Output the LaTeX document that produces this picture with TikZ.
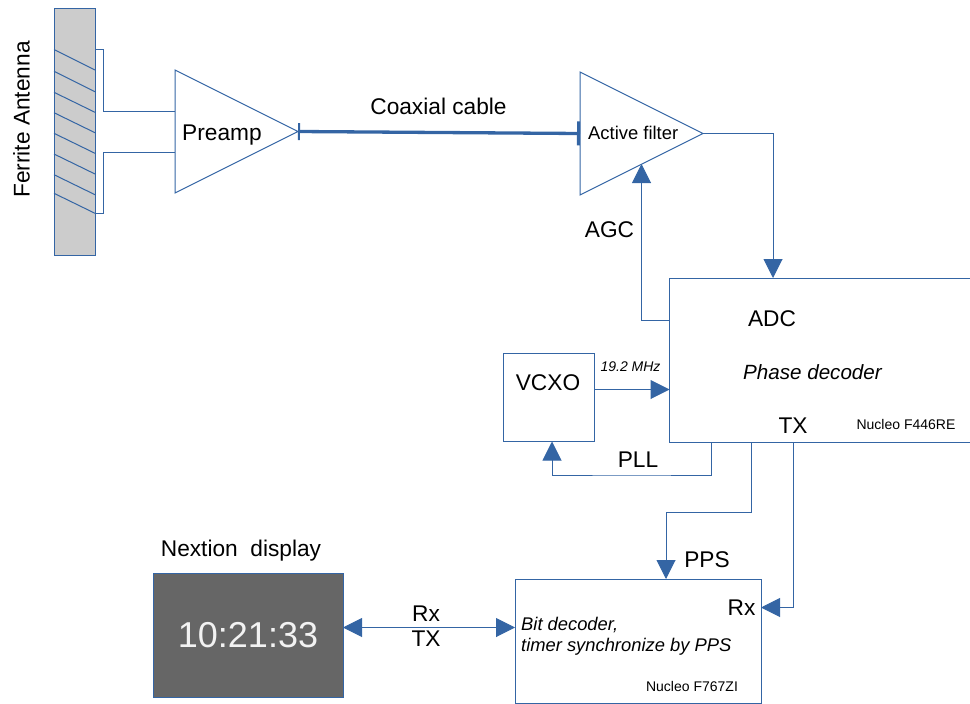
\documentclass[tikz,border=0pt]{standalone}
\usepackage{fontspec}
\setmainfont{Liberation Sans}
\usetikzlibrary{arrows.meta,shapes.geometric}
\definecolor{wire}{HTML}{3465A4}
\newcommand{\fsize}[1]{\fontsize{#1}{#1}\selectfont}
\begin{document}
\begin{tikzpicture}[
x=1pt,y=-1pt,
myline/.style={
  draw=wire,
  line width=1pt
  },
myarrow/.style={
  myline,
  -{Triangle[length=19pt,width=19pt,fill=wire]}
  },
mybox/.style={
  myline,
  rectangle,
  inner sep=0pt,
  outer sep=0pt
  },
myamp/.style={
  myline,
  shape=isosceles triangle,
  isosceles triangle stretches,
  minimum width=123pt,
  minimum height=123pt,
  inner sep=0pt,
  outer sep=0pt,
  anchor=apex
  },
mytext/.style={
  inner sep=0pt,
  font=\fsize{22.7}
  }
]
\useasboundingbox (0,0) rectangle (970,704);
% antenna
\node[mybox,fill=black!20,minimum width=41pt,minimum height=247pt] (rod) at (74.5,131.5) {};
\foreach \Start/\End in {49.5/70,71.3/91.7,92.3/112.3,112.7/132.7,133.3/153.3,154/174,174.7/194.7,193.3/213.3}
  \draw[myline] (54,\Start) -- (95,\End);
\node[mytext,rotate=90] (ferrite) at (21.5,119.5) {Ferrite Antenna};
% blocks
\node[myamp] (preamp) at (298,131.5) {};
\node[myamp] (filt) at (703,133.5) {};
\node[mybox,minimum width=302.5pt,minimum height=164pt] (adc) at (820.75,360) {};
\node[mybox,minimum width=90.5pt,minimum height=88pt] (vcxo) at (548.75,397.5) {};
\node[mybox,minimum width=246pt,minimum height=124.5pt] (bitdec) at (638,641.25) {};
\node[mybox,fill=black!60,text=black!5,minimum width=190pt,minimum height=124pt,font=\fsize{36}] (nextion) at (248,635) {\raisebox{-1.5pt}{10:21:33}};
% connection points
\foreach \Name/\X/\Y in {leadtop/95/49.5,leadbot/95/213.5,ampup/175/111,ampdown/175/152,filtin/580/133.5,
    adcin/773/278,agcout/669.5/320,agcin/641.5/164,ppsin/666/579,rxin/761/607.5,pllout/711.5/442,
    ppsout/751.5/442,txout/793/442,pllin/552/441.5,clkout/594/389.5,clkin/669.5/389.5}
  \coordinate (\Name) at (\X,\Y);
% wires
\draw[myline] (leadtop) -- ++(8,0) |- (ampup);
\draw[myline] (leadbot) -- ++(8,0) |- (ampdown);
\draw[wire,line width=3.3pt,{Bar[width=17pt,line width=2pt]}-{Bar[width=24pt,line width=3pt]}] (preamp.apex) -- (filtin);
\draw[myarrow] (filt.apex) -| (adcin);
\draw[myarrow] (agcout) -| (agcin);
\draw[myarrow] (pllout) |- ++(-80,33) -| (pllin);
\draw[myarrow] (ppsout) -- ++(0,70) -| (ppsin);
\draw[myarrow] (txout) |- (rxin);
\draw[myarrow] (clkout) -- (clkin);
\draw[myarrow,{Triangle[length=19pt,width=19pt,fill=wire]}-{Triangle[length=19pt,width=19pt,fill=wire]}] (nextion.east |- 0,627.5) -- (bitdec.west |- 0,627.5);
% labels
\node[mytext,anchor=west] (preamplbl) at (182,135.5) {Preamp};
\node[mytext,font=\fsize{18.4},anchor=west] (filtlbl) at (588,132.5) {Active filter};
\node[mytext] (coax) at (438.5,106) {Coaxial cable};
\node[mytext] (agc) at (609.5,230) {AGC};
\node[mytext] (adclbl) at (772,319) {ADC};
\node[mytext,font=\itshape\fsize{20.6}] (phase) at (812.5,372.5) {Phase decoder};
\node[mytext] (txlbl) at (793,425.5) {TX};
\node[mytext,font=\fsize{14}] (f446) at (906,424) {Nucleo F446RE};
\node[mytext,font=\itshape\fsize{14}] (mhz) at (630.5,367) {19.2 MHz};
\node[mytext] (vcxolbl) at (548,383) {VCXO};
\node[mytext] (pll) at (638,460) {PLL};
\node[mytext] (pps) at (707,559.5) {PPS};
\node[mytext] (rxbit) at (741.5,607.5) {Rx};
\node[mytext] (rxline) at (426,613.5) {Rx};
\node[mytext] (txline) at (426,639) {TX};
\node[mytext,font=\itshape\fsize{18.35},align=left,anchor=west] (bitlbl) at (521,636.5) {Bit decoder,\\[2.7pt]timer synchronize by PPS};
\node[mytext,font=\fsize{14}] (f767) at (692,686) {Nucleo F767ZI};
\node[mytext] (title) at (241,550.5) {Nextion\ \ display};
\end{tikzpicture}
\end{document}
